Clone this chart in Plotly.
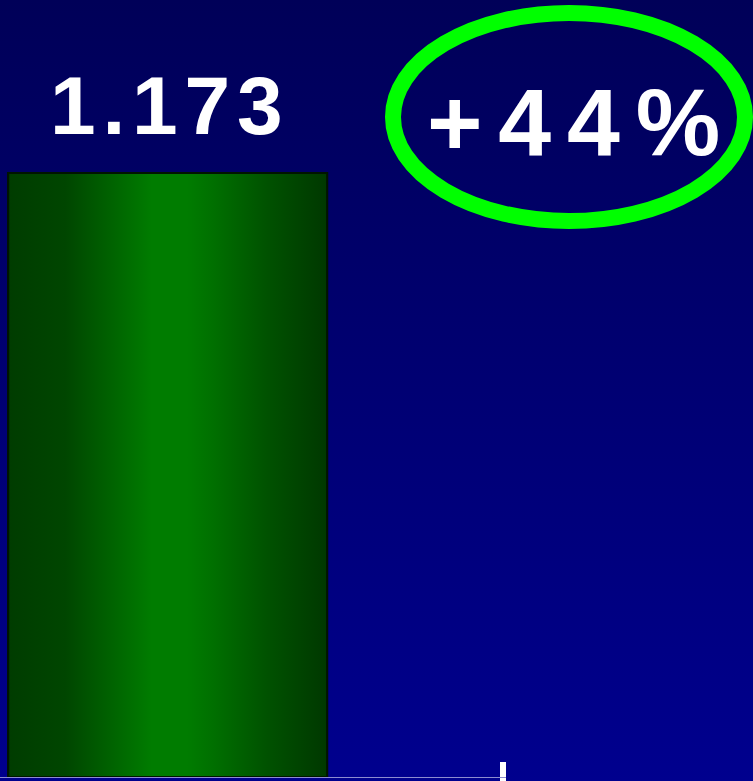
import plotly.graph_objects as go

# ---- data ----
category_positions = [0, 1]          # two category slots; only the first bar is visible
bar_values = [1.173]                 # value of the visible bar
bar_labels = ["1.173"]
change_label = "+44%"
tick_positions = [1]                 # tick mark on the x axis (centre of 2nd slot)

# ---- styling ----
W, H = 753, 781
BAR_WIDTH = 0.951
Y_MAX = 1.509
X_RANGE = [-0.5, 1.009]
AXIS_BOTTOM_PX = 4
BG_TOP, BG_BOTTOM = "#000058", "#00008e"
FONT = "Liberation Sans"
BAR_SCALE = [[0, "#003c00"], [0.18, "#004600"], [0.45, "#007c00"],
             [0.56, "#007c00"], [0.64, "#007000"], [0.81, "#005200"],
             [1, "#003800"]]

HS = "\u200a"  # hair space used as letter spacing


def spaced(s, n=1):
    return (HS * n).join(list(s))


fig = go.Figure()

# background gradient (full-figure subplot x/y)
fig.add_trace(go.Scatter(
    x=[0, 1, 1, 0, 0], y=[0, 0, 1, 1, 0], mode="lines", line=dict(width=0),
    fill="toself",
    fillgradient=dict(type="vertical", colorscale=[[0, BG_BOTTOM], [1, BG_TOP]],
                      start=0, stop=1),
    hoverinfo="skip", showlegend=False, xaxis="x", yaxis="y"))

# bar (data-driven)
bx = category_positions[:len(bar_values)]
fig.add_trace(go.Bar(
    x=bx, y=bar_values, width=BAR_WIDTH,
    marker=dict(color="#007800", line=dict(color="#001500", width=2)),
    showlegend=False, hoverinfo="skip", xaxis="x2", yaxis="y2"))

# gradient overlay for each bar, coordinates derived from the bar data
for xc, v in zip(bx, bar_values):
    xl, xr = xc - BAR_WIDTH / 2, xc + BAR_WIDTH / 2
    fig.add_trace(go.Scatter(
        x=[xl, xr, xr, xl, xl], y=[0, 0, v, v, 0], mode="lines",
        line=dict(color="#001500", width=2),
        fill="toself",
        fillgradient=dict(type="horizontal", colorscale=BAR_SCALE),
        showlegend=False, hoverinfo="skip", xaxis="x2", yaxis="y2"))

# invisible trace so the overlay axis (lower half of the tick) renders
fig.add_trace(go.Scatter(x=[category_positions[0]], y=[0], mode="markers",
                         marker=dict(opacity=0), showlegend=False,
                         hoverinfo="skip", xaxis="x3", yaxis="y2"))

annotations = []
for xc, v, lab in zip(bx, bar_values, bar_labels):
    annotations.append(dict(
        x=xc, y=v, xref="x2", yref="y2", text=spaced(lab), showarrow=False,
        yanchor="bottom", xanchor="center", yshift=20, xshift=-1,
        font=dict(family=FONT, size=82, color="white", weight="bold")))

annotations.append(dict(
    x=573 / W, y=1 - 177 / H, xref="paper", yref="paper",
    text=spaced(change_label, 2),
    showarrow=False, yanchor="bottom", xanchor="center",
    font=dict(family=FONT, size=95, color="white", weight="bold")))

x_dom_right = (503 + (X_RANGE[1] - tick_positions[0]) * 335.3) / W
y_dom_bottom = AXIS_BOTTOM_PX / H

fig.update_layout(
    width=W, height=H, margin=dict(l=0, r=0, t=0, b=0),
    paper_bgcolor=BG_BOTTOM, plot_bgcolor="rgba(0,0,0,0)",
    showlegend=False,
    xaxis=dict(domain=[0, 1], range=[0, 1], visible=False, fixedrange=True),
    yaxis=dict(domain=[0, 1], range=[0, 1], visible=False, fixedrange=True),
    xaxis2=dict(domain=[0, x_dom_right], range=X_RANGE, anchor="y2",
                showline=True, linecolor="#8c8cd0", linewidth=1,
                ticks="inside", tickmode="array", tickvals=tick_positions,
                ticklen=15, tickwidth=6, tickcolor="white",
                showticklabels=False, showgrid=False, zeroline=False),
    xaxis3=dict(overlaying="x2", matches="x2", anchor="y2", side="bottom",
                showline=False, ticks="outside", tickmode="array",
                tickvals=tick_positions, ticklen=5, tickwidth=6, tickcolor="white",
                showticklabels=False, showgrid=False, zeroline=False),
    yaxis2=dict(domain=[y_dom_bottom, 1], range=[0, Y_MAX], anchor="x2",
                visible=False, showgrid=False, zeroline=False),
    annotations=annotations,
    shapes=[dict(type="circle", xref="paper", yref="paper",
                 x0=393 / W, x1=745 / W, y0=1 - 221 / H, y1=1 - 13 / H,
                 line=dict(color="#00ff00", width=16))],
)

fig.write_html(
    "out.html",
    config={"displayModeBar": False},
    post_script="document.body.style.margin='0';document.body.style.padding='0';"
                "document.body.style.background='" + BG_BOTTOM + "';",
)
